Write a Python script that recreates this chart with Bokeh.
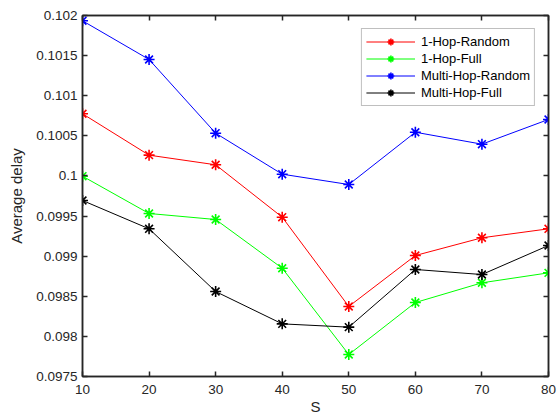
from bokeh.plotting import figure
from bokeh.models import Range1d, FixedTicker, LinearAxis, Legend, LegendItem
from bokeh.embed import file_html
from bokeh.resources import INLINE

# ---- data ----
s_values = [10, 20, 30, 40, 50, 60, 70, 80]
one_hop_random = [0.100775, 0.100259, 0.100139, 0.099486, 0.098373, 0.099008, 0.099229, 0.099341]
one_hop_full = [0.099997, 0.099532, 0.099457, 0.098850, 0.097774, 0.098422, 0.098668, 0.098792]
multi_hop_random = [0.101934, 0.101452, 0.100533, 0.100022, 0.099893, 0.100545, 0.100396, 0.100704]
multi_hop_full = [0.099694, 0.099341, 0.098559, 0.098156, 0.098115, 0.098834, 0.098771, 0.099133]

series_names = ["1-Hop-Random", "1-Hop-Full", "Multi-Hop-Random", "Multi-Hop-Full"]
series_colors = ["#ff0000", "#00ff00", "#0000ff", "#000000"]

x_ticks = [10, 20, 30, 40, 50, 60, 70, 80]
x_tick_labels = ["10", "20", "30", "40", "50", "60", "70", "80"]
y_ticks = [0.0975, 0.098, 0.0985, 0.099, 0.0995, 0.1, 0.1005, 0.101, 0.1015, 0.102]
y_tick_labels = ["0.0975", "0.098", "0.0985", "0.099", "0.0995", "0.1", "0.1005", "0.101", "0.1015", "0.102"]

x_label = "S"
y_label = "Average delay"

FONT = "Liberation Sans"
AX = "#262626"

p = figure(
    frame_width=466, frame_height=361,
    x_range=Range1d(10, 80), y_range=Range1d(0.0975, 0.102),
    output_backend="svg", toolbar_location=None,
    min_border_left=82, min_border_right=9, min_border_top=15, min_border_bottom=41,
    background_fill_color="white", border_fill_color="white",
)
p.xgrid.visible = False
p.ygrid.visible = False
p.outline_line_color = AX
p.outline_line_width = 1.5


def style_axis(ax, ticks, labels, show_labels=True):
    ax.ticker = FixedTicker(ticks=ticks)
    ax.major_label_overrides = {t: l for t, l in zip(ticks, labels)}
    ax.major_tick_in = 5
    ax.major_tick_out = 0
    ax.minor_tick_line_color = None
    ax.axis_line_color = AX
    ax.axis_line_width = 1.5
    ax.major_tick_line_color = AX
    ax.major_tick_line_width = 1.5
    ax.major_label_text_font = FONT
    ax.major_label_text_color = AX
    if show_labels:
        ax.major_label_text_font_size = "13.5px"
    else:
        ax.major_label_text_font_size = "0px"
        ax.major_label_standoff = 0


style_axis(p.xaxis[0], x_ticks, x_tick_labels)
p.xaxis[0].major_label_standoff = 8
p.xaxis[0].axis_label = x_label
p.xaxis[0].axis_label_text_font = FONT
p.xaxis[0].axis_label_text_font_size = "15px"
p.xaxis[0].axis_label_text_font_style = "normal"
p.xaxis[0].axis_label_text_color = AX
p.xaxis[0].axis_label_standoff = 1

style_axis(p.yaxis[0], y_ticks, y_tick_labels)
p.yaxis[0].major_label_standoff = 5
p.yaxis[0].axis_label = y_label
p.yaxis[0].axis_label_text_font = FONT
p.yaxis[0].axis_label_text_font_size = "15px"
p.yaxis[0].axis_label_text_font_style = "normal"
p.yaxis[0].axis_label_text_color = AX
p.yaxis[0].axis_label_standoff = 8

top_axis = LinearAxis()
style_axis(top_axis, x_ticks, ["" for _ in x_ticks], show_labels=False)
p.add_layout(top_axis, "above")
right_axis = LinearAxis()
style_axis(right_axis, y_ticks, ["" for _ in y_ticks], show_labels=False)
p.add_layout(right_axis, "right")

all_series = [one_hop_random, one_hop_full, multi_hop_random, multi_hop_full]
items = []
for name, color, vals in zip(series_names, series_colors, all_series):
    ln = p.line(s_values, vals, line_color=color, line_width=1)
    sc = p.scatter(s_values, vals, marker="asterisk", size=11, line_color=color, line_width=1.6)
    items.append(LegendItem(label=name, renderers=[ln, sc]))

legend = Legend(
    items=items, location="top_right", margin=13, padding=4, spacing=0,
    glyph_width=49, glyph_height=17, label_height=17, label_standoff=6,
    label_text_font=FONT, label_text_font_size="13px", label_text_color="#000000",
    border_line_color="#808080", border_line_width=1,
    background_fill_color="white", background_fill_alpha=1,
)
p.add_layout(legend)

open("out.html", "w").write(file_html(p, INLINE))
